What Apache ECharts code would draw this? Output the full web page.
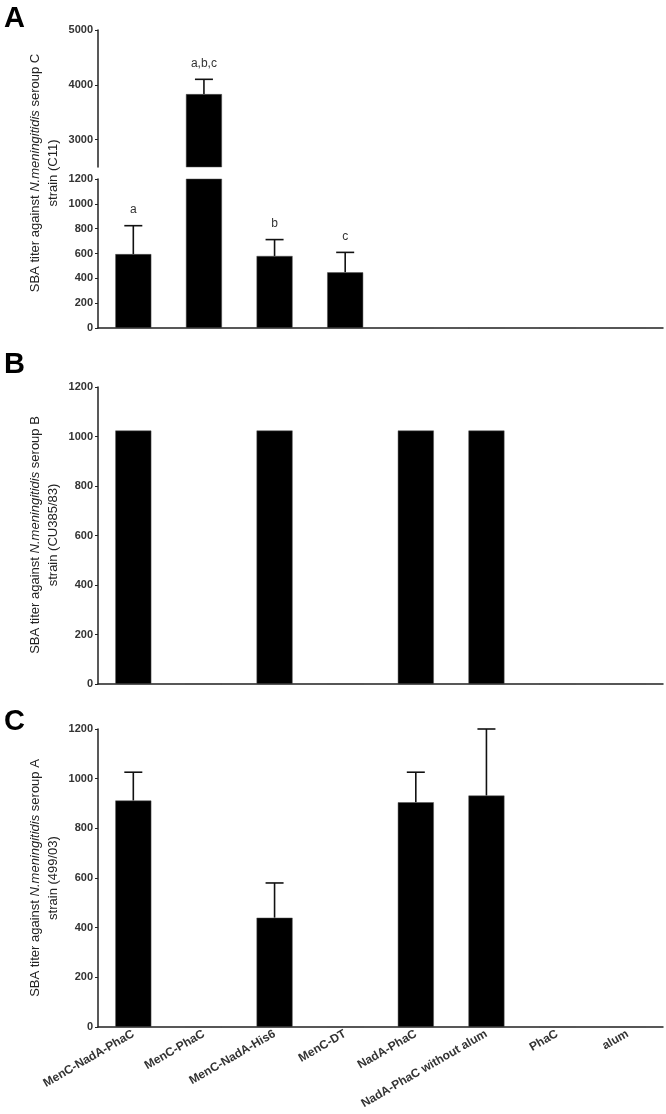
<!DOCTYPE html>
<html>
<head>
<meta charset="utf-8">
<script src="https://cdn.jsdelivr.net/npm/echarts@6/dist/echarts.min.js"></script>
<style>
html,body{margin:0;padding:0;background:#fff;}
#chart{width:666px;height:1114px;}
</style>
</head>
<body>
<div id="chart"></div>
<script>
// ---------- data ----------
const categories = ['MenC-NadA-PhaC', 'MenC-PhaC', 'MenC-NadA-His6', 'MenC-DT', 'NadA-PhaC', 'NadA-PhaC without alum', 'PhaC', 'alum'];
// Panel A: serogroup C strain (C11)
const serogroupC_mean = [595, 3830, 580, 448, 0, 0, 0, 0];
const serogroupC_errTop = [824, 4100, 712, 609, null, null, null, null];
const serogroupC_letters = ['a', 'a,b,c', 'b', 'c', '', '', '', ''];
// Panel B: serogroup B strain (CU385/83)
const serogroupB_mean = [1024, 0, 1024, 0, 1024, 1024, 0, 0];
// Panel C: serogroup A strain (499/03)
const serogroupA_mean = [912, 0, 440, 0, 905, 932, 0, 0];
const serogroupA_errTop = [1026, null, 580, null, 1026, 1200, null, null];
// axis ticks
const upperBreakTicks = [3000, 4000, 5000];
const upperBreakRange = [2500, 5000];
const lowerRange = [0, 1200];

// ---------- style ----------
const FONT = 'Liberation Sans, Arial, sans-serif';
const AX = '#222';
const chart = echarts.init(document.getElementById('chart'));

const LEFT = 98, RIGHT = 3;
const grids = [
  {left: LEFT, right: RIGHT, top: 30, height: 137},   // A upper
  {left: LEFT, right: RIGHT, top: 179, height: 149},  // A lower
  {left: LEFT, right: RIGHT, top: 387, height: 297},  // B
  {left: LEFT, right: RIGHT, top: 729, height: 298}   // C
];

function xAxis(gi, showLine, showLabels) {
  return {
    type: 'category', gridIndex: gi, data: categories,
    axisLine: {show: showLine, lineStyle: {color: AX, width: 1.5}},
    axisTick: {show: false},
    axisLabel: showLabels ? {
      show: true, rotate: 30, interval: 0, margin: 6,
      fontFamily: FONT, fontSize: 12, fontWeight: 'bold', color: '#333'
    } : {show: false},
    splitLine: {show: false}
  };
}
const plain = v => String(v);
const yLabel = {fontFamily: FONT, fontSize: 11, fontWeight: 'bold', color: '#333', margin: 5, formatter: plain};
function yAxis(gi, extra) {
  return Object.assign({
    type: 'value', gridIndex: gi,
    axisLine: {show: true, lineStyle: {color: AX, width: 1.5}},
    axisTick: {show: true, length: 3, lineStyle: {color: AX, width: 1}},
    axisLabel: Object.assign({}, yLabel),
    splitLine: {show: false}
  }, extra);
}

const yAxes = [
  yAxis(0, {min: upperBreakRange[0], max: upperBreakRange[1],
    axisLabel: Object.assign({}, yLabel, {customValues: upperBreakTicks}),
    axisTick: {show: true, length: 3, lineStyle: {color: AX, width: 1}, customValues: upperBreakTicks}}),
  yAxis(1, {min: lowerRange[0], max: lowerRange[1], interval: 200}),
  yAxis(2, {min: lowerRange[0], max: lowerRange[1], interval: 200}),
  yAxis(3, {min: lowerRange[0], max: lowerRange[1], interval: 200})
];

function barSeries(gi, data) {
  return {
    type: 'bar', xAxisIndex: gi, yAxisIndex: gi, data: data,
    barWidth: 36, clip: true, silent: true,
    itemStyle: {color: '#000', borderColor: '#555', borderWidth: 0.5},
    animation: false
  };
}

function errSeries(gi, items, letters) {
  return {
    type: 'custom', xAxisIndex: gi, yAxisIndex: gi, data: items, clip: false, silent: true,
    animation: false,
    renderItem: function (params, api) {
      const idx = api.value(0);
      const p1 = api.coord([idx, api.value(1)]);
      const p2 = api.coord([idx, api.value(2)]);
      const half = 9;
      const style = {stroke: '#111', lineWidth: 1.6};
      const children = [
        {type: 'line', shape: {x1: p1[0], y1: p1[1], x2: p2[0], y2: p2[1]}, style: style},
        {type: 'line', shape: {x1: p2[0] - half, y1: p2[1], x2: p2[0] + half, y2: p2[1]}, style: style}
      ];
      const letter = letters ? letters[idx] : '';
      if (letter) {
        children.push({type: 'text', x: p2[0], y: p2[1] - 10,
          style: {text: letter, align: 'center', verticalAlign: 'bottom',
            font: '12px ' + FONT, fill: '#333'}});
      }
      return {type: 'group', children: children};
    }
  };
}

// Panel A: split data for broken axis
const aUpperBars = serogroupC_mean.map(v => v > upperBreakRange[0] ? v : null);
const aErrUpper = [], aErrLower = [];
serogroupC_mean.forEach((m, i) => {
  const t = serogroupC_errTop[i];
  if (t == null) return;
  (t > lowerRange[1] ? aErrUpper : aErrLower).push([i, m, t]);
});
const cErr = [];
serogroupA_mean.forEach((m, i) => {
  const t = serogroupA_errTop[i];
  if (t != null) cErr.push([i, m, t]);
});

function yTitle(cx, cy, group, strain) {
  return {
    type: 'text', x: cx, y: cy, rotation: Math.PI / 2,
    style: {
      text: 'SBA titer against {i|N.meningitidis} seroup ' + group + '\nstrain (' + strain + ')',
      align: 'center', verticalAlign: 'middle',
      font: '13px ' + FONT, fill: '#222', lineHeight: 18,
      rich: {i: {fontStyle: 'italic', fontFamily: FONT, fontSize: 13, fill: '#222'}}
    }
  };
}
function panelLetter(t, x, y) {
  return {type: 'text', x: x, y: y,
    style: {text: t, font: 'bold 29px ' + FONT, fill: '#000', align: 'left', verticalAlign: 'top'}};
}

chart.setOption({
  backgroundColor: '#fff',
  animation: false,
  grid: grids,
  xAxis: [xAxis(0, false, false), xAxis(1, true, false), xAxis(2, true, false), xAxis(3, true, true)],
  yAxis: yAxes,
  series: [
    barSeries(0, aUpperBars),
    barSeries(1, serogroupC_mean),
    barSeries(2, serogroupB_mean),
    barSeries(3, serogroupA_mean),
    errSeries(0, aErrUpper, serogroupC_letters),
    errSeries(1, aErrLower, serogroupC_letters),
    errSeries(3, cErr, null)
  ],
  graphic: [
    panelLetter('A', 4, 4),
    panelLetter('B', 4, 350),
    panelLetter('C', 4, 707),
    yTitle(44, 173, 'C', 'C11'),
    yTitle(44, 535, 'B', 'CU385/83'),
    yTitle(44, 878, 'A', '499/03')
  ]
});
</script>
</body>
</html>
